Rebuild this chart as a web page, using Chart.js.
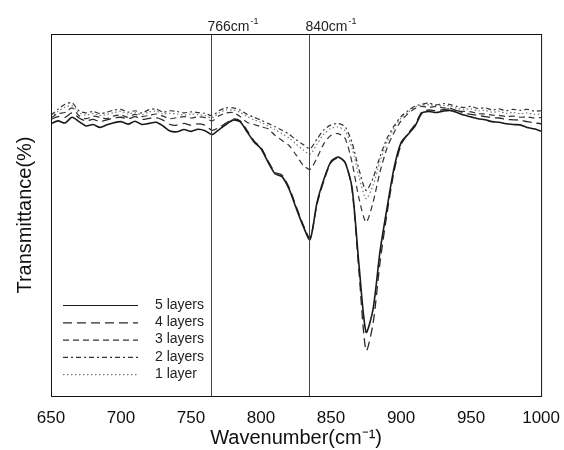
<!DOCTYPE html>
<html>
<head>
<meta charset="utf-8">
<script src="https://cdn.jsdelivr.net/npm/chart.js@4.4.1/dist/chart.umd.min.js"></script>
<style>
  body { margin: 0; background: #fff; }
  #wrap { width: 564px; height: 450px; }
</style>
</head>
<body>
<div id="wrap"><canvas id="ftir" width="564" height="450"></canvas></div>
<script>
// wavenumber grid (cm-1)
const wavenumbers = [650, 655, 660, 665, 670, 675, 680, 685, 690, 695,
  700, 705, 710, 715, 720, 725, 730, 735, 740, 745,
  750, 755, 760, 765, 770, 775, 780, 785, 790, 795,
  800, 805, 810, 815, 820, 825, 830, 835, 840, 845,
  850, 855, 860, 865, 870, 875, 880, 885, 890, 895,
  900, 905, 910, 915, 920, 925, 930, 935, 940, 945,
  950, 955, 960, 965, 970, 975, 980, 985, 990, 995, 1000];

// transmittance (arbitrary %)
const layers5 = [75.2, 76.0, 75.4, 77.0, 75.8, 74.6, 75.0, 74.2, 74.9, 75.5,
  75.8, 75.1, 75.9, 75.0, 75.3, 75.6, 74.6, 73.2, 73.0, 73.6,
  73.1, 73.7, 73.3, 72.2, 73.6, 75.0, 76.2, 75.8, 73.0, 70.2,
  68.3, 64.6, 61.4, 60.6, 57.2, 52.0, 47.0, 43.2, 53.5, 60.0,
  64.8, 66.0, 64.5, 57.5, 36.0, 17.6, 24.0, 40.0, 52.0, 63.0,
  70.0, 72.3, 74.6, 78.2, 78.6, 78.3, 78.7, 78.9, 78.3, 77.6,
  77.1, 76.6, 76.3, 75.8, 75.6, 75.2, 75.0, 74.9, 74.2, 73.8, 73.2];
const layers4 = [76.4, 77.2, 77.0, 78.2, 76.8, 76.0, 76.4, 75.8, 76.3, 76.8,
  77.0, 76.5, 77.2, 76.4, 76.7, 76.9, 76.2, 75.0, 74.8, 75.3,
  74.8, 75.2, 74.8, 73.4, 74.2, 75.4, 76.5, 76.0, 73.4, 70.5,
  68.6, 65.0, 61.8, 61.0, 57.6, 52.5, 47.4, 43.6, 53.0, 59.6,
  64.5, 65.8, 64.6, 57.0, 34.0, 12.5, 20.0, 37.0, 50.5, 62.0,
  69.4, 72.5, 75.0, 78.5, 79.0, 78.8, 79.1, 79.3, 78.8, 78.2,
  77.8, 77.5, 77.2, 76.9, 76.8, 76.4, 76.3, 76.2, 75.8, 75.5, 75.2];
const layers3 = [76.8, 78.0, 78.3, 79.6, 77.4, 76.6, 77.3, 77.0, 76.6, 77.4,
  77.6, 77.0, 77.8, 77.2, 77.5, 77.9, 77.3, 76.6, 76.9, 77.2,
  76.8, 77.1, 76.9, 76.0, 77.4, 78.2, 78.3, 77.2, 75.6, 75.0,
  74.4, 73.8, 72.0, 70.6, 69.2, 66.6, 63.8, 62.6, 65.8, 69.8,
  72.0, 72.5, 71.2, 64.5, 54.5, 48.0, 53.5, 62.0, 68.5, 72.8,
  76.0, 78.0, 79.4, 80.0, 79.7, 80.0, 79.6, 79.5, 78.8, 78.6,
  78.5, 78.0, 77.9, 77.6, 77.5, 77.2, 77.3, 77.0, 77.1, 76.8, 76.9];
const layers2 = [77.6, 79.2, 80.6, 81.0, 78.8, 78.2, 78.6, 78.0, 78.4, 79.0,
  79.2, 78.4, 78.8, 78.2, 79.1, 79.3, 78.4, 78.8, 78.6, 78.2,
  78.5, 78.3, 78.1, 77.4, 78.8, 79.6, 79.6, 79.0, 77.8, 77.0,
  76.2, 75.3, 74.4, 73.4, 72.3, 70.8, 69.5, 68.3, 71.0, 73.6,
  74.9, 75.3, 74.4, 70.0, 62.5, 56.8, 60.2, 66.2, 71.2, 74.6,
  77.2, 78.8, 80.1, 80.6, 80.9, 80.4, 80.8, 80.5, 80.0, 79.7,
  80.0, 79.4, 79.6, 79.0, 79.3, 78.8, 79.2, 78.9, 79.2, 78.7, 78.8];
const layers1 = [77.0, 78.6, 79.8, 80.2, 78.2, 77.6, 78.0, 77.5, 77.8, 78.3,
  78.6, 77.9, 78.3, 77.7, 78.5, 78.7, 77.9, 78.1, 77.9, 77.6,
  77.9, 77.7, 77.5, 76.8, 78.2, 79.0, 79.0, 78.4, 77.2, 76.3,
  75.6, 74.6, 73.6, 72.5, 71.3, 69.6, 68.0, 66.8, 69.6, 72.4,
  73.9, 74.3, 73.3, 68.5, 60.5, 54.5, 58.2, 64.8, 70.2, 74.0,
  76.8, 78.4, 79.8, 80.3, 80.5, 80.2, 80.3, 80.1, 79.5, 79.2,
  79.3, 78.8, 78.9, 78.4, 78.6, 78.1, 78.3, 78.0, 78.2, 77.8, 77.9];

const seriesLabels = ['5 layers', '4 layers', '3 layers', '2 layers', '1 layer'];
const xTicks = [650, 700, 750, 800, 850, 900, 950, 1000];

// marked bands: where the lines sit and what they are called
const markerPositions = [764, 834];
const markerLabels = ['766', '840'];

const FONT = "'Liberation Sans', Arial, sans-serif";

function toPoints(ys) {
  return wavenumbers.map((w, i) => ({ x: w, y: ys[i] }));
}

const styles = [
  { color: '#1a1a1a', width: 1.6, dash: [] },
  { color: '#2a2a2a', width: 1.3, dash: [9, 5] },
  { color: '#333333', width: 1.2, dash: [6, 4] },
  { color: '#333333', width: 1.2, dash: [5, 3, 2, 3] },
  { color: '#777777', width: 1.2, dash: [1.5, 2.5] }
];
const allSeries = [layers5, layers4, layers3, layers2, layers1];

const datasets = allSeries.map((ys, i) => ({
  label: seriesLabels[i],
  data: toPoints(ys),
  borderColor: styles[i].color,
  borderWidth: styles[i].width,
  borderDash: styles[i].dash,
  pointRadius: 0,
  tension: 0.25,
  fill: false
}));

// frame, band markers and the little legend inside the plot
const decorations = {
  id: 'decorations',
  afterDatasetsDraw(chart) {
    const { ctx, chartArea: a, scales: { x } } = chart;
    ctx.save();

    // band lines + labels
    ctx.strokeStyle = '#444';
    ctx.lineWidth = 1;
    ctx.setLineDash([]);
    markerPositions.forEach((wn, i) => {
      const px = Math.round(x.getPixelForValue(wn)) + 0.5;
      ctx.beginPath();
      ctx.moveTo(px, a.top);
      ctx.lineTo(px, a.bottom);
      ctx.stroke();

      ctx.fillStyle = '#222';
      ctx.font = '14px ' + FONT;
      ctx.textBaseline = 'alphabetic';
      const txt = markerLabels[i] + 'cm';
      const tx = px - 4;
      ctx.fillText(txt, tx, 31);
      const w = ctx.measureText(txt).width;
      ctx.font = '9px ' + FONT;
      ctx.fillText('-1', tx + w + 1, 24);
    });

    // plot frame
    ctx.strokeStyle = '#111';
    ctx.lineWidth = 1;
    ctx.strokeRect(a.left + 0.5, a.top + 0.5, a.right - a.left, a.bottom - a.top);

    // legend
    ctx.font = '14px ' + FONT;
    ctx.textBaseline = 'middle';
    datasets.forEach((ds, i) => {
      const y = 305 + i * 17.3;
      ctx.strokeStyle = ds.borderColor;
      ctx.lineWidth = 1.2;
      ctx.setLineDash(ds.borderDash);
      ctx.beginPath();
      ctx.moveTo(63, y + 0.5);
      ctx.lineTo(138, y + 0.5);
      ctx.stroke();
      ctx.setLineDash([]);
      ctx.fillStyle = '#222';
      ctx.fillText(ds.label, 155, y);
    });
    ctx.restore();
  }
};

new Chart(document.getElementById('ftir'), {
  type: 'line',
  data: { datasets },
  options: {
    responsive: false,
    animation: false,
    layout: { padding: { top: 34, right: 20, left: 0, bottom: 0 } },
    plugins: {
      legend: { display: false },
      tooltip: { enabled: false }
    },
    scales: {
      x: {
        type: 'linear',
        min: 650,
        max: 1000,
        afterFit(scale) { scale.height = 54; },
        afterBuildTicks(scale) { scale.ticks = xTicks.map(v => ({ value: v })); },
        grid: { display: false },
        border: { display: false },
        ticks: {
          color: '#111',
          padding: 4,
          maxRotation: 0,
          font: { family: FONT, size: 17 },
          callback: v => String(v)
        },
        title: {
          display: true,
          text: 'Wavenumber(cm⁻¹)',
          color: '#111',
          padding: { top: 0, bottom: 0 },
          font: { family: FONT, size: 20 }
        }
      },
      y: {
        min: 0,
        max: 100,
        afterFit(scale) { scale.width = 51; },
        grid: { display: false },
        border: { display: false },
        ticks: { display: false },
        title: {
          display: true,
          text: 'Transmittance(%)',
          color: '#111',
          padding: { top: 13, bottom: 0 },
          font: { family: FONT, size: 20 }
        }
      }
    }
  },
  plugins: [decorations]
});
</script>
</body>
</html>
